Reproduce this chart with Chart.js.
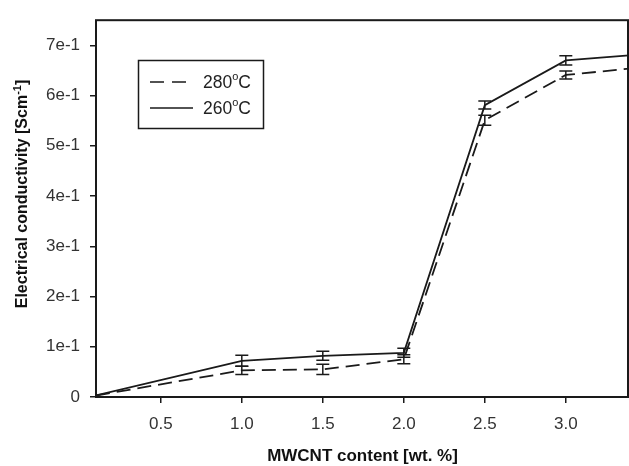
<!DOCTYPE html>
<html>
<head>
<meta charset="utf-8">
<script src="https://cdn.jsdelivr.net/npm/chart.js@4.4.1/dist/chart.umd.min.js"></script>
<style>
  html, body { margin: 0; padding: 0; background: #fff; }
  #wrap { width: 629px; height: 466px; }
</style>
</head>
<body>
<div id="wrap"><canvas id="chart" width="629" height="466"></canvas></div>
<script>
const contentWt = [0.1, 1.0, 1.5, 2.0, 2.5, 3.0, 3.5];
const cond280 = [0.003, 0.053, 0.055, 0.075, 0.551, 0.641, 0.657];
const err280 = [0, 0.008, 0.010, 0.009, 0.010, 0.008, 0];
const cond260 = [0.003, 0.072, 0.082, 0.088, 0.581, 0.670, 0.683];
const err260 = [0, 0.011, 0.009, 0.009, 0.008, 0.009, 0];
const xTicks = [0.5, 1.0, 1.5, 2.0, 2.5, 3.0];
const yTicks = [0, 0.1, 0.2, 0.3, 0.4, 0.5, 0.6, 0.7];

const FONT = '"Liberation Sans", Arial, sans-serif';
const INK = "#1a1a1a";

function pts(ys) {
  return contentWt.map((x, i) => ({ x: x, y: ys[i] }));
}

function fmtSci(v) {
  if (Math.abs(v) < 1e-9) return "0";
  return Math.round(v * 10) + "e-1";
}

// frame, error bars, legend box and axis titles
const extrasPlugin = {
  id: "extras",
  afterDatasetsDraw(chart) {
    const { ctx, chartArea: a, scales } = chart;
    const xs = scales.x, ys = scales.y;
    ctx.save();
    ctx.beginPath();
    ctx.rect(a.left, a.top, a.right - a.left, a.bottom - a.top);
    ctx.clip();
    ctx.strokeStyle = INK;
    ctx.lineWidth = 1.5;
    [[cond280, err280], [cond260, err260]].forEach(([vals, errs]) => {
      vals.forEach((v, i) => {
        if (!errs[i]) return;
        const px = xs.getPixelForValue(contentWt[i]);
        const top = ys.getPixelForValue(v + errs[i]);
        const bot = ys.getPixelForValue(v - errs[i]);
        ctx.beginPath();
        ctx.moveTo(px, top); ctx.lineTo(px, bot);
        ctx.moveTo(px - 6.5, top); ctx.lineTo(px + 6.5, top);
        ctx.moveTo(px - 6.5, bot); ctx.lineTo(px + 6.5, bot);
        ctx.stroke();
      });
    });
    ctx.restore();

    ctx.save();
    // plot frame
    ctx.strokeStyle = INK;
    ctx.lineWidth = 2;
    ctx.strokeRect(a.left, a.top, a.right - a.left - 1, a.bottom - a.top);

    // legend
    ctx.lineWidth = 1.5;
    ctx.strokeRect(138.5, 60.5, 125, 68);
    const items = [
      { label: "280", dash: [14, 8], y: 82 },
      { label: "260", dash: [], y: 108 }
    ];
    items.forEach((it) => {
      ctx.setLineDash(it.dash);
      ctx.beginPath();
      ctx.moveTo(150, it.y); ctx.lineTo(193, it.y);
      ctx.stroke();
      ctx.setLineDash([]);
      ctx.fillStyle = "#222";
      ctx.textBaseline = "middle";
      ctx.font = "17.5px " + FONT;
      let x = 203;
      ctx.fillText(it.label, x, it.y + 1);
      x += ctx.measureText(it.label).width;
      ctx.font = "11px " + FONT;
      ctx.fillText("o", x, it.y - 5);
      x += ctx.measureText("o").width;
      ctx.font = "17.5px " + FONT;
      ctx.fillText("C", x, it.y + 1);
    });

    // x title
    ctx.fillStyle = "#111";
    ctx.font = "bold 17px " + FONT;
    ctx.textAlign = "center";
    ctx.textBaseline = "middle";
    ctx.fillText("MWCNT content [wt. %]", (a.left + a.right) / 2, 456);

    // y title with superscript
    ctx.translate(23, 194);
    ctx.rotate(-Math.PI / 2);
    const main = "Electrical conductivity [Scm";
    ctx.font = "bold 16px " + FONT;
    const w1 = ctx.measureText(main).width;
    ctx.font = "bold 11px " + FONT;
    const w2 = ctx.measureText("-1").width;
    ctx.font = "bold 16px " + FONT;
    const w3 = ctx.measureText("]").width;
    let sx = -(w1 + w2 + w3) / 2;
    ctx.textAlign = "left";
    ctx.fillText(main, sx, 0);
    sx += w1;
    ctx.font = "bold 11px " + FONT;
    ctx.fillText("-1", sx, -5);
    sx += w2;
    ctx.font = "bold 16px " + FONT;
    ctx.fillText("]", sx, 0);
    ctx.restore();
  }
};

new Chart(document.getElementById("chart"), {
  type: "line",
  data: {
    datasets: [
      {
        label: "280°C",
        data: pts(cond280),
        borderColor: INK,
        borderWidth: 1.8,
        borderDash: [14, 7],
        pointRadius: 0,
        tension: 0,
        fill: false
      },
      {
        label: "260°C",
        data: pts(cond260),
        borderColor: INK,
        borderWidth: 1.8,
        pointRadius: 0,
        tension: 0,
        fill: false
      }
    ]
  },
  options: {
    responsive: false,
    animation: false,
    devicePixelRatio: 1,
    layout: { padding: { top: 13, right: 0, left: 0, bottom: 0 } },
    plugins: { legend: { display: false }, tooltip: { enabled: false }, title: { display: false } },
    scales: {
      x: {
        type: "linear",
        min: 0.1,
        max: 3.39,
        afterBuildTicks: (s) => { s.ticks = xTicks.map((v) => ({ value: v })); },
        afterFit: (s) => { s.height = 69; },
        ticks: {
          color: "#333",
          font: { family: FONT, size: 17 },
          padding: 11,
          maxRotation: 0,
          callback: (v) => Number(v).toFixed(1)
        },
        grid: { drawOnChartArea: false, drawTicks: true, tickLength: 6, color: INK, lineWidth: 1.5 },
        border: { display: false }
      },
      y: {
        type: "linear",
        min: 0,
        max: 0.75,
        afterBuildTicks: (s) => { s.ticks = yTicks.map((v) => ({ value: v })); },
        afterFit: (s) => { s.width = 96; },
        ticks: {
          color: "#333",
          font: { family: FONT, size: 17 },
          padding: 10,
          callback: (v) => fmtSci(v)
        },
        grid: { drawOnChartArea: false, drawTicks: true, tickLength: 6, color: INK, lineWidth: 1.5 },
        border: { display: false }
      }
    }
  },
  plugins: [extrasPlugin]
});
</script>
</body>
</html>
